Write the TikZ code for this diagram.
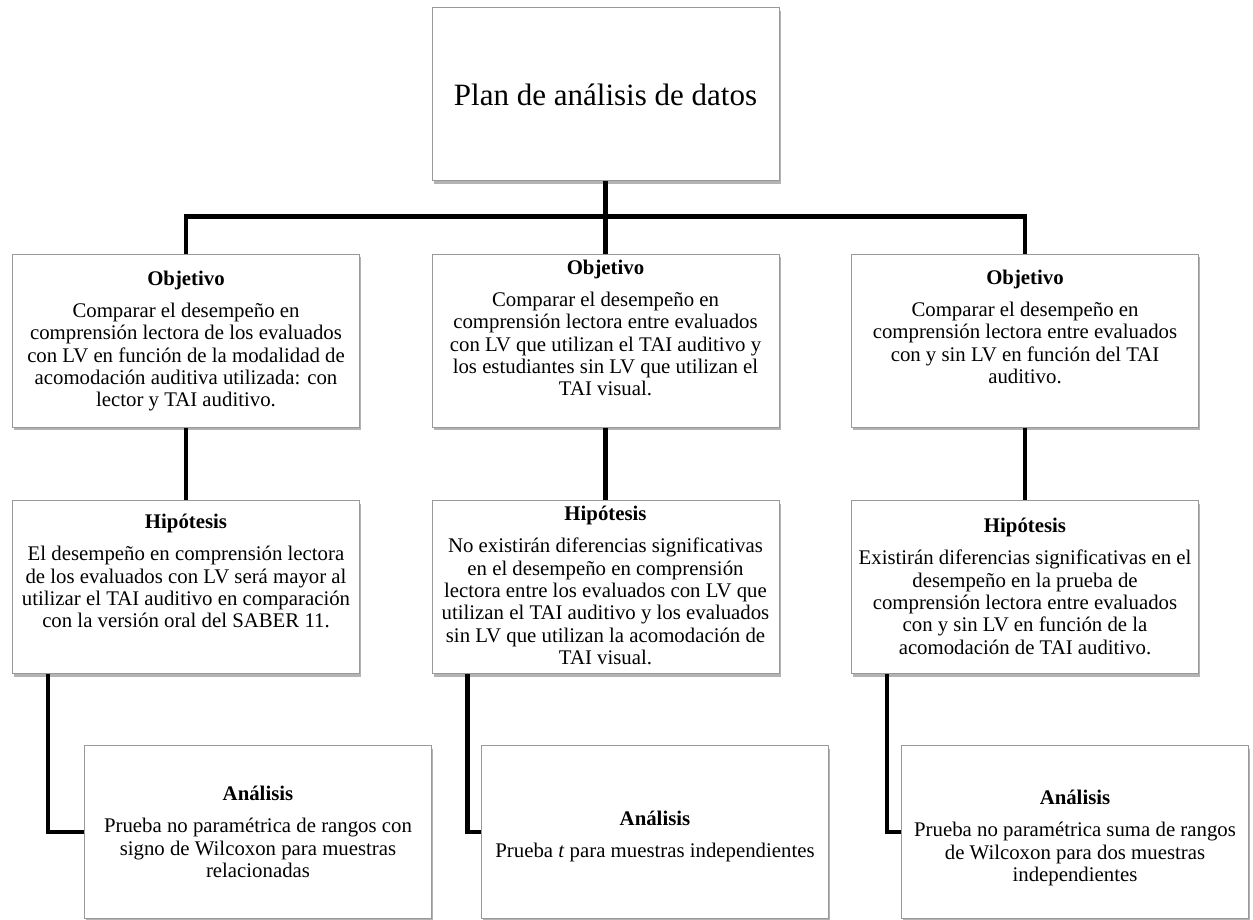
\documentclass[tikz,border=0pt]{standalone}
\usepackage{fontspec}
\setmainfont{Liberation Serif}
\usetikzlibrary{positioning,shadows}
\begin{document}
\begin{tikzpicture}[x=1pt, y=-1pt,
  caja/.style={draw=black!40, line width=1pt, fill=white, inner sep=0pt,
    minimum width=347pt, minimum height=173pt,
    drop shadow={shadow xshift=1.5pt, shadow yshift=-3pt, fill=black!50, opacity=.6}},
  texto/.style={align=center, inner sep=0pt, font=\fontsize{20.8}{22.3}\selectfont},
  enlace/.style={line width=4.5pt}]
\useasboundingbox (0,0) rectangle (1253,920);

\node[caja] (plan) at (605.5,94.5) {};
\node[texto, font=\fontsize{31}{36}\selectfont] (tplan) at (plan) {Plan de análisis de datos};

\foreach \i/\x/\xa in {1/186/258, 2/605.5/655, 3/1025/1075}
{
    \node[caja] (obj\i) at (\x,340.5) {};
    \node[caja] (hip\i) at (\x,587) {};
    \node[caja] (ana\i) at (\xa,832) {};
    \draw[enlace] (obj\i.south) -- (hip\i.north);
    \draw[enlace] ([xshift=36pt]hip\i.south west) |- (ana\i.west);
}
\draw[enlace] (plan.south) -- (obj2.north);
\draw[enlace] (obj1.north) -- ++(0,-37) -| (obj3.north);

\node[texto, below=17pt of obj1.north] (tobj1) {\textbf{Objetivo}\\[10pt]Comparar el desempeño en\\comprensión lectora de los evaluados\\con LV en función de la modalidad de\\acomodación auditiva utilizada: con\\lector y TAI auditivo.};
\node[texto, below=6pt of obj2.north] (tobj2) {\textbf{Objetivo}\\[10pt]Comparar el desempeño en\\comprensión lectora entre evaluados\\con LV que utilizan el TAI auditivo y\\los estudiantes sin LV que utilizan el\\TAI visual.};
\node[texto, below=16pt of obj3.north] (tobj3) {\textbf{Objetivo}\\[10pt]Comparar el desempeño en\\comprensión lectora entre evaluados\\con y sin LV en función del TAI\\auditivo.};

\node[texto, below=14pt of hip1.north] (thip1) {\textbf{Hipótesis}\\[10pt]El desempeño en comprensión lectora\\de los evaluados con LV será mayor al\\utilizar el TAI auditivo en comparación\\con la versión oral del SABER 11.};
\node[texto, below=6pt of hip2.north] (thip2) {\textbf{Hipótesis}\\[10pt]No existirán diferencias significativas\\en el desempeño en comprensión\\lectora entre los evaluados con LV que\\utilizan el TAI auditivo y los evaluados\\sin LV que utilizan la acomodación de\\TAI visual.};
\node[texto, below=18pt of hip3.north] (thip3) {\textbf{Hipótesis}\\[10pt]Existirán diferencias significativas en el\\desempeño en la prueba de\\comprensión lectora entre evaluados\\con y sin LV en función de la\\acomodación de TAI auditivo.};

\node[texto, below=41pt of ana1.north] (tana1) {\textbf{Análisis}\\[10pt]Prueba no paramétrica de rangos con\\signo de Wilcoxon para muestras\\relacionadas};
\node[texto, below=66pt of ana2.north] (tana2) {\textbf{Análisis}\\[10pt]Prueba \textit{t} para muestras independientes};
\node[texto, below=45pt of ana3.north] (tana3) {\textbf{Análisis}\\[10pt]Prueba no paramétrica suma de rangos\\de Wilcoxon para dos muestras\\independientes};
\end{tikzpicture}
\end{document}
